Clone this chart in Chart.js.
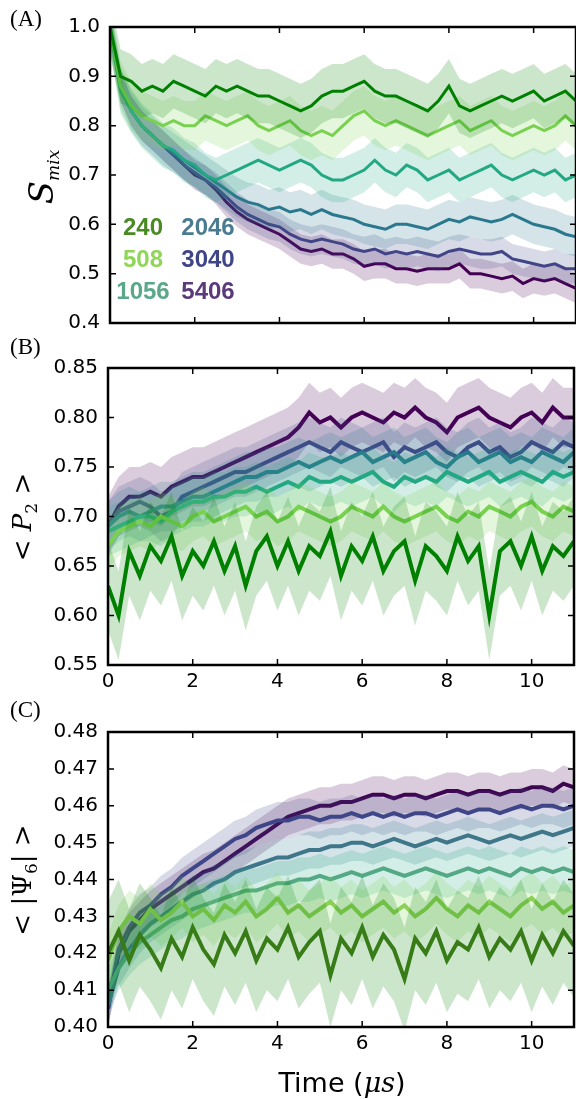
<!DOCTYPE html>
<html lang="en">
<head>
<meta charset="UTF-8" />
<title>Mixing and order parameters vs time</title>
<script src="https://cdn.jsdelivr.net/npm/chart.js"></script>
<style>
  body { margin: 0; background: #fff; width: 576px; height: 1099px; position: relative; overflow: hidden; }
  canvas { position: absolute; left: 0; }
  #chartA { top: 0; }
  #chartB { top: 345px; }
  #chartC { top: 705px; }
  .panel { position: absolute; left: 10px; font-family: 'Liberation Serif', serif; font-size: 23px; line-height: 1; }
  .ylab { position: absolute; transform: translate(-50%, -50%) rotate(-90deg); white-space: nowrap;
          font-family: 'DejaVu Serif', serif; font-size: 26px; line-height: 1; }
  .ylab i { font-style: italic; }
  .ylab sub { font-size: 17px; vertical-align: -6px; }
  .leg { position: absolute; width: 70px; text-align: center; font-family: 'Liberation Sans', sans-serif;
         font-weight: bold; font-size: 24px; line-height: 24px; }
  .xlab { position: absolute; left: 342px; top: 1082px; transform: translate(-50%, -50%); white-space: nowrap;
          font-family: 'DejaVu Sans', sans-serif; font-size: 27px; line-height: 1; }
  .xlab i { font-family: 'DejaVu Serif', serif; }
</style>
</head>
<body>
  <canvas id="chartA" width="576" height="345"></canvas>
  <canvas id="chartB" width="576" height="360"></canvas>
  <canvas id="chartC" width="576" height="394"></canvas>

  <div class="panel" style="top:7px">(A)</div>
  <div class="panel" style="top:335px">(B)</div>
  <div class="panel" style="top:698px">(C)</div>

  <div class="ylab" style="left:43px; top:177px"><i style="font-size:34px">S</i><sub><i>mix</i></sub></div>
  <div class="ylab" style="left:24px; top:517px">&lt; <i>P</i><sub>2</sub> &gt;</div>
  <div class="ylab" style="left:24px; top:880px">&lt; |Ψ<sub>6</sub>| &gt;</div>
  <div class="xlab">Time (<i>μs</i>)</div>

  <div class="leg" style="left:108px; top:215px; color:#4a8a22">240</div>
  <div class="leg" style="left:108px; top:247px; color:#8fd557">508</div>
  <div class="leg" style="left:108px; top:279px; color:#5aa889">1056</div>
  <div class="leg" style="left:173px; top:215px; color:#4a7b90">2046</div>
  <div class="leg" style="left:173px; top:247px; color:#3f4586">3040</div>
  <div class="leg" style="left:173px; top:279px; color:#5b3a7a">5406</div>

<script>
  // time axis (microseconds)
  const timeUs = [0, 0.25, 0.5, 0.75, 1, 1.25, 1.5, 1.75, 2, 2.25, 2.5, 2.75, 3, 3.25, 3.5, 3.75,
    4, 4.25, 4.5, 4.75, 5, 5.25, 5.5, 5.75, 6, 6.25, 6.5, 6.75, 7, 7.25, 7.5, 7.75,
    8, 8.25, 8.5, 8.75, 9, 9.25, 9.5, 9.75, 10, 10.25, 10.5, 10.75, 11];
  const xTicks = [0, 2, 4, 6, 8, 10];
  const sizes = ['240', '508', '1056', '2046', '3040', '5406'];

  // (A) S_mix
  const smix240 = [1.0, 0.90, 0.89, 0.87, 0.88, 0.87, 0.89, 0.88, 0.87, 0.86, 0.88, 0.87, 0.88, 0.87, 0.86, 0.86,
    0.85, 0.84, 0.83, 0.84, 0.86, 0.87, 0.87, 0.88, 0.89, 0.87, 0.86, 0.86, 0.85, 0.84, 0.83, 0.85,
    0.88, 0.84, 0.83, 0.84, 0.85, 0.86, 0.85, 0.86, 0.87, 0.85, 0.86, 0.87, 0.85];
  const smix508 = [1.0, 0.88, 0.84, 0.82, 0.81, 0.80, 0.81, 0.80, 0.80, 0.82, 0.81, 0.80, 0.81, 0.82, 0.80, 0.79,
    0.80, 0.81, 0.79, 0.78, 0.79, 0.78, 0.80, 0.82, 0.83, 0.81, 0.80, 0.81, 0.80, 0.79, 0.78, 0.79,
    0.80, 0.81, 0.79, 0.80, 0.81, 0.79, 0.78, 0.79, 0.80, 0.79, 0.80, 0.82, 0.80];
  const smix1056 = [1.0, 0.87, 0.83, 0.80, 0.78, 0.76, 0.75, 0.73, 0.72, 0.70, 0.69, 0.70, 0.71, 0.72, 0.73, 0.72,
    0.71, 0.72, 0.73, 0.72, 0.70, 0.69, 0.69, 0.70, 0.71, 0.73, 0.71, 0.70, 0.72, 0.71, 0.69, 0.70,
    0.71, 0.69, 0.70, 0.71, 0.72, 0.70, 0.69, 0.70, 0.71, 0.70, 0.71, 0.69, 0.70];
  const smix2046 = [1.0, 0.88, 0.83, 0.80, 0.78, 0.76, 0.745, 0.73, 0.715, 0.70, 0.685, 0.67, 0.655, 0.645, 0.64, 0.63,
    0.635, 0.625, 0.63, 0.62, 0.63, 0.62, 0.615, 0.61, 0.60, 0.595, 0.59, 0.60, 0.60, 0.595, 0.59, 0.60,
    0.61, 0.605, 0.615, 0.61, 0.605, 0.61, 0.62, 0.61, 0.60, 0.595, 0.59, 0.58, 0.575];
  const smix3040 = [1.0, 0.88, 0.83, 0.80, 0.78, 0.76, 0.74, 0.72, 0.705, 0.69, 0.675, 0.655, 0.635, 0.62, 0.61, 0.60,
    0.595, 0.58, 0.57, 0.565, 0.57, 0.565, 0.56, 0.55, 0.545, 0.55, 0.54, 0.545, 0.54, 0.545, 0.54, 0.535,
    0.545, 0.55, 0.545, 0.54, 0.54, 0.545, 0.53, 0.525, 0.52, 0.515, 0.52, 0.51, 0.51];
  const smix5406 = [1.0, 0.88, 0.83, 0.80, 0.78, 0.76, 0.74, 0.72, 0.70, 0.69, 0.67, 0.645, 0.625, 0.61, 0.60, 0.59,
    0.58, 0.565, 0.55, 0.545, 0.55, 0.54, 0.54, 0.53, 0.515, 0.52, 0.52, 0.51, 0.51, 0.505, 0.51, 0.51,
    0.51, 0.52, 0.50, 0.50, 0.495, 0.49, 0.495, 0.48, 0.49, 0.485, 0.49, 0.48, 0.47];
  const smixSpread = [0.055, 0.05, 0.045, 0.04, 0.03, 0.03];
  const smixTicks = [0.4, 0.5, 0.6, 0.7, 0.8, 0.9, 1.0];

  // (B) <P2>
  const p2_240 = [0.63, 0.60, 0.665, 0.64, 0.67, 0.655, 0.68, 0.64, 0.665, 0.65, 0.675, 0.645, 0.67, 0.63, 0.665, 0.68,
    0.65, 0.675, 0.645, 0.67, 0.66, 0.685, 0.64, 0.67, 0.655, 0.68, 0.645, 0.665, 0.675, 0.635, 0.67, 0.66,
    0.645, 0.68, 0.655, 0.67, 0.60, 0.665, 0.675, 0.65, 0.68, 0.645, 0.67, 0.66, 0.675];
  const p2_508 = [0.67, 0.685, 0.69, 0.695, 0.69, 0.70, 0.695, 0.69, 0.70, 0.705, 0.695, 0.70, 0.705, 0.71, 0.70, 0.705,
    0.695, 0.70, 0.71, 0.705, 0.70, 0.695, 0.70, 0.71, 0.705, 0.70, 0.71, 0.70, 0.695, 0.70, 0.705, 0.71,
    0.70, 0.695, 0.705, 0.70, 0.71, 0.705, 0.70, 0.71, 0.715, 0.705, 0.70, 0.71, 0.705];
  const p2_1056 = [0.685, 0.69, 0.695, 0.70, 0.70, 0.695, 0.705, 0.71, 0.715, 0.715, 0.72, 0.72, 0.725, 0.725, 0.73, 0.725,
    0.73, 0.735, 0.73, 0.74, 0.735, 0.735, 0.74, 0.735, 0.74, 0.745, 0.735, 0.73, 0.74, 0.735, 0.74, 0.735,
    0.745, 0.74, 0.735, 0.74, 0.745, 0.735, 0.74, 0.745, 0.74, 0.735, 0.745, 0.74, 0.745];
  const p2_2046 = [0.69, 0.70, 0.705, 0.70, 0.705, 0.71, 0.71, 0.715, 0.72, 0.72, 0.725, 0.73, 0.735, 0.74, 0.74, 0.745,
    0.745, 0.75, 0.755, 0.75, 0.755, 0.76, 0.755, 0.76, 0.765, 0.755, 0.76, 0.765, 0.755, 0.76, 0.765, 0.755,
    0.75, 0.76, 0.765, 0.755, 0.76, 0.765, 0.755, 0.76, 0.755, 0.765, 0.76, 0.755, 0.765];
  const p2_3040 = [0.69, 0.705, 0.71, 0.715, 0.71, 0.70, 0.705, 0.72, 0.725, 0.73, 0.735, 0.74, 0.745, 0.745, 0.75, 0.755,
    0.76, 0.765, 0.77, 0.775, 0.77, 0.765, 0.775, 0.77, 0.765, 0.77, 0.775, 0.76, 0.77, 0.765, 0.77, 0.775,
    0.765, 0.76, 0.77, 0.775, 0.765, 0.77, 0.76, 0.765, 0.775, 0.77, 0.765, 0.775, 0.77];
  const p2_5406 = [0.69, 0.71, 0.72, 0.72, 0.725, 0.72, 0.73, 0.735, 0.74, 0.74, 0.745, 0.75, 0.755, 0.76, 0.765, 0.77,
    0.775, 0.78, 0.79, 0.805, 0.795, 0.80, 0.79, 0.80, 0.805, 0.80, 0.795, 0.805, 0.80, 0.81, 0.80, 0.795,
    0.785, 0.80, 0.805, 0.81, 0.80, 0.795, 0.79, 0.80, 0.805, 0.795, 0.81, 0.80, 0.80];
  const p2Spread = [0.045, 0.025, 0.025, 0.025, 0.025, 0.03];
  const p2Ticks = [0.55, 0.60, 0.65, 0.70, 0.75, 0.80, 0.85];

  // (C) <|Psi6|>
  const psi240 = [0.42, 0.426, 0.418, 0.425, 0.421, 0.416, 0.424, 0.419, 0.427, 0.421, 0.417, 0.425, 0.42, 0.426, 0.418, 0.424,
    0.421, 0.427, 0.419, 0.423, 0.426, 0.414, 0.424, 0.42, 0.427, 0.419, 0.425, 0.421, 0.413, 0.424, 0.42, 0.426,
    0.418, 0.423, 0.421, 0.427, 0.419, 0.424, 0.421, 0.426, 0.418, 0.425, 0.42, 0.426, 0.422];
  const psi508 = [0.418, 0.426, 0.43, 0.428, 0.432, 0.429, 0.431, 0.434, 0.43, 0.432, 0.429, 0.433, 0.431, 0.434, 0.43, 0.432,
    0.435, 0.431, 0.433, 0.43, 0.432, 0.434, 0.431, 0.433, 0.43, 0.432, 0.434, 0.431, 0.433, 0.43, 0.432, 0.435,
    0.432, 0.43, 0.433, 0.431, 0.434, 0.432, 0.43, 0.433, 0.435, 0.432, 0.434, 0.431, 0.433];
  const psi1056 = [0.41, 0.416, 0.42, 0.423, 0.425, 0.427, 0.429, 0.43, 0.432, 0.433, 0.434, 0.435, 0.436, 0.437, 0.437, 0.438,
    0.439, 0.439, 0.44, 0.44, 0.441, 0.44, 0.441, 0.442, 0.441, 0.442, 0.443, 0.442, 0.441, 0.442, 0.443, 0.442,
    0.441, 0.442, 0.443, 0.442, 0.443, 0.442, 0.441, 0.443, 0.442, 0.443, 0.442, 0.443, 0.442];
  const psi2046 = [0.406, 0.416, 0.421, 0.425, 0.428, 0.43, 0.432, 0.434, 0.436, 0.437, 0.439, 0.44, 0.442, 0.443, 0.444, 0.445,
    0.446, 0.446, 0.447, 0.448, 0.448, 0.449, 0.449, 0.45, 0.45, 0.449, 0.45, 0.451, 0.45, 0.449, 0.45, 0.451,
    0.45, 0.451, 0.452, 0.451, 0.45, 0.451, 0.452, 0.451, 0.452, 0.453, 0.452, 0.453, 0.454];
  const psi3040 = [0.405, 0.421, 0.427, 0.431, 0.433, 0.436, 0.438, 0.441, 0.443, 0.445, 0.447, 0.449, 0.451, 0.452, 0.454, 0.455,
    0.456, 0.456, 0.457, 0.457, 0.456, 0.457, 0.457, 0.458, 0.457, 0.458, 0.457, 0.458, 0.457, 0.458, 0.458, 0.457,
    0.458, 0.459, 0.458, 0.459, 0.459, 0.458, 0.459, 0.46, 0.459, 0.46, 0.46, 0.459, 0.46];
  const psi5406 = [0.405, 0.42, 0.426, 0.429, 0.432, 0.434, 0.436, 0.438, 0.44, 0.442, 0.443, 0.445, 0.447, 0.449, 0.451, 0.453,
    0.455, 0.457, 0.458, 0.459, 0.46, 0.46, 0.461, 0.461, 0.462, 0.463, 0.463, 0.462, 0.463, 0.463, 0.462, 0.463,
    0.464, 0.464, 0.463, 0.464, 0.464, 0.463, 0.464, 0.464, 0.465, 0.465, 0.464, 0.466, 0.465];
  const psiSpread = [0.014, 0.007, 0.006, 0.005, 0.005, 0.005];
  const psiTicks = [0.40, 0.41, 0.42, 0.43, 0.44, 0.45, 0.46, 0.47, 0.48];

  const colorsAB = ['#008000', '#7ad151', '#22a884', '#2a788e', '#414487', '#440154'];
  const colorsC = ['#467b1e', '#92d05a', '#5fa886', '#467689', '#3f4688', '#3d0751'];

  function rgba(hex, a) {
    const n = parseInt(hex.slice(1), 16);
    return `rgba(${n >> 16}, ${(n >> 8) & 255}, ${n & 255}, ${a})`;
  }

  // band (mean +/- spread) then mean line, one series after another
  function buildDatasets(series, colors, bandColors, spreads, lineW) {
    const ds = [];
    series.forEach((vals, k) => {
      const pts = off => vals.map((v, i) => ({ x: timeUs[i], y: v + off }));
      ds.push({ label: sizes[k] + ' hi', data: pts(spreads[k]), fill: '+1', backgroundColor: rgba(bandColors[k], 0.2),
                borderWidth: 0, pointRadius: 0, clip: 0 });
      ds.push({ label: sizes[k] + ' lo', data: pts(-spreads[k]), fill: false, borderWidth: 0, pointRadius: 0, clip: 0 });
      ds.push({ label: sizes[k], data: pts(0), fill: false, borderColor: colors[k], borderWidth: lineW,
                borderJoinStyle: 'miter', pointRadius: 0, clip: 0 });
    });
    return ds;
  }

  // frame + inward ticks on all four sides, matplotlib-classic look
  const framePlugin = {
    id: 'frame',
    afterDraw(chart, args, opts) {
      const { ctx, chartArea: a, scales } = chart;
      ctx.save();
      ctx.strokeStyle = '#000';
      ctx.lineWidth = 1.5;
      ctx.beginPath();
      xTicks.forEach(v => {
        const px = scales.x.getPixelForValue(v);
        ctx.moveTo(px, a.bottom); ctx.lineTo(px, a.bottom - 6);
        ctx.moveTo(px, a.top); ctx.lineTo(px, a.top + 6);
      });
      opts.yTicks.forEach(v => {
        const py = scales.y.getPixelForValue(v);
        ctx.moveTo(a.left, py); ctx.lineTo(a.left + 6, py);
        ctx.moveTo(a.right, py); ctx.lineTo(a.right - 6, py);
      });
      ctx.stroke();
      ctx.lineWidth = 2.5;
      ctx.strokeRect(a.left, a.top, a.right - a.left, a.bottom - a.top);
      ctx.restore();
    }
  };

  function makePanel(id, cfg) {
    const tickFont = { family: 'DejaVu Sans', size: 20 };
    return new Chart(document.getElementById(id), {
      type: 'line',
      data: { datasets: buildDatasets(cfg.series, cfg.colors, cfg.bandColors, cfg.spreads, cfg.lineW) },
      options: {
        responsive: false,
        animation: false,
        events: [],
        layout: { padding: { top: cfg.padTop, right: cfg.padRight, bottom: cfg.padBottom, left: 0 } },
        elements: { line: { tension: 0 } },
        plugins: {
          legend: { display: false },
          tooltip: { enabled: false },
          frame: { yTicks: cfg.yTicks }
        },
        scales: {
          x: {
            type: 'linear', min: 0, max: 11,
            grid: { display: false, drawTicks: false },
            border: { display: false },
            afterBuildTicks: s => { s.ticks = xTicks.map(v => ({ value: v })); },
            afterFit: s => { s.height = cfg.xHeight; },
            ticks: { display: cfg.showX, font: tickFont, color: '#000', padding: 5 }
          },
          y: {
            min: cfg.yTicks[0], max: cfg.yTicks[cfg.yTicks.length - 1],
            grid: { display: false, drawTicks: false },
            border: { display: false },
            afterBuildTicks: s => { s.ticks = cfg.yTicks.map(v => ({ value: v })); },
            afterFit: s => { s.width = cfg.leftW; },
            ticks: { font: tickFont, color: '#000', padding: 10, callback: v => v.toFixed(cfg.digits) }
          }
        }
      },
      plugins: [framePlugin]
    });
  }

  makePanel('chartA', {
    series: [smix240, smix508, smix1056, smix2046, smix3040, smix5406],
    colors: colorsAB, bandColors: colorsAB, spreads: smixSpread, lineW: 3, yTicks: smixTicks, digits: 1,
    showX: false, xHeight: 0, padTop: 27, padBottom: 22, padRight: -1, leftW: 110
  });
  makePanel('chartB', {
    series: [p2_240, p2_508, p2_1056, p2_2046, p2_3040, p2_5406],
    colors: colorsAB, bandColors: colorsAB, spreads: p2Spread, lineW: 4, yTicks: p2Ticks, digits: 2,
    showX: true, xHeight: 40, padTop: 23, padBottom: 0, padRight: 2, leftW: 108
  });
  makePanel('chartC', {
    series: [psi240, psi508, psi1056, psi2046, psi3040, psi5406],
    colors: colorsC, bandColors: colorsAB, spreads: psiSpread, lineW: 4, yTicks: psiTicks, digits: 2,
    showX: true, xHeight: 72, padTop: 27, padBottom: 0, padRight: 2, leftW: 108
  });
</script>
</body>
</html>
